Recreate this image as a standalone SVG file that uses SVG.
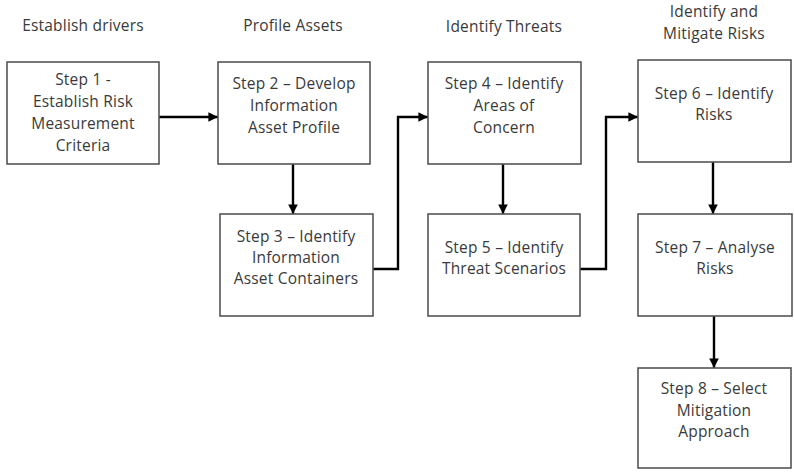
<svg xmlns="http://www.w3.org/2000/svg" width="794" height="473" viewBox="0 0 794 473">
  <defs>
    <marker id="arrow" viewBox="0 0 10 10" refX="10" refY="5" markerWidth="4" markerHeight="4" orient="auto" markerUnits="strokeWidth">
      <path d="M0,0 L10,5 L0,10 z" fill="#000"/>
    </marker>
  </defs>
  <style>
    text { font-family: "Open Sans", "Noto Sans", "Liberation Sans", sans-serif; font-size: 15.5px; letter-spacing: 0.2px; fill: #3a3a3a; text-anchor: middle; }
    .box { fill: #fff; stroke: #555; stroke-width: 1.6; }
    .conn { fill: none; stroke: #000; stroke-width: 2.4; marker-end: url(#arrow); }
  </style>
  <rect width="794" height="473" fill="#fff"/>

  <!-- phase headings -->
  <g id="headings">
    <text x="83" y="31">Establish drivers</text>
    <text x="293" y="31">Profile Assets</text>
    <text x="504" y="32">Identify Threats</text>
    <text x="714" y="17">Identify and</text>
    <text x="714" y="39">Mitigate Risks</text>
  </g>

  <!-- connectors -->
  <g id="connectors">
    <path class="conn" d="M159,117 H218"/>
    <path class="conn" d="M293,164 V214"/>
    <path class="conn" d="M373,269 H398 V117 H428"/>
    <path class="conn" d="M503,164 V214"/>
    <path class="conn" d="M580,269 H606 V117 H638"/>
    <path class="conn" d="M713,162 V214"/>
    <path class="conn" d="M714,316 V368"/>
  </g>

  <g id="step1">
    <rect class="box" x="7" y="62" width="152" height="102"/>
    <text x="83" y="85">Step 1 -</text>
    <text x="83" y="107">Establish Risk</text>
    <text x="83" y="129">Measurement</text>
    <text x="83" y="151">Criteria</text>
  </g>
  <g id="step2">
    <rect class="box" x="218" y="62" width="152" height="102"/>
    <text x="294" y="89">Step 2 – Develop</text>
    <text x="294" y="111">Information</text>
    <text x="294" y="133">Asset Profile</text>
  </g>
  <g id="step3">
    <rect class="box" x="220" y="214" width="153" height="102"/>
    <text x="296" y="242">Step 3 – Identify</text>
    <text x="296" y="263">Information</text>
    <text x="296" y="284">Asset Containers</text>
  </g>
  <g id="step4">
    <rect class="box" x="428" y="62" width="153" height="102"/>
    <text x="504" y="89">Step 4 – Identify</text>
    <text x="504" y="111">Areas of</text>
    <text x="504" y="133">Concern</text>
  </g>
  <g id="step5">
    <rect class="box" x="428" y="214" width="152" height="102"/>
    <text x="504" y="253">Step 5 – Identify</text>
    <text x="504" y="274">Threat Scenarios</text>
  </g>
  <g id="step6">
    <rect class="box" x="638" y="60" width="153" height="102"/>
    <text x="714" y="99">Step 6 – Identify</text>
    <text x="714" y="120">Risks</text>
  </g>
  <g id="step7">
    <rect class="box" x="638" y="214" width="154" height="102"/>
    <text x="715" y="253">Step 7 – Analyse</text>
    <text x="715" y="274">Risks</text>
  </g>
  <g id="step8">
    <rect class="box" x="638" y="368" width="153" height="100"/>
    <text x="714" y="394">Step 8 – Select</text>
    <text x="714" y="416">Mitigation</text>
    <text x="714" y="437">Approach</text>
  </g>
</svg>
